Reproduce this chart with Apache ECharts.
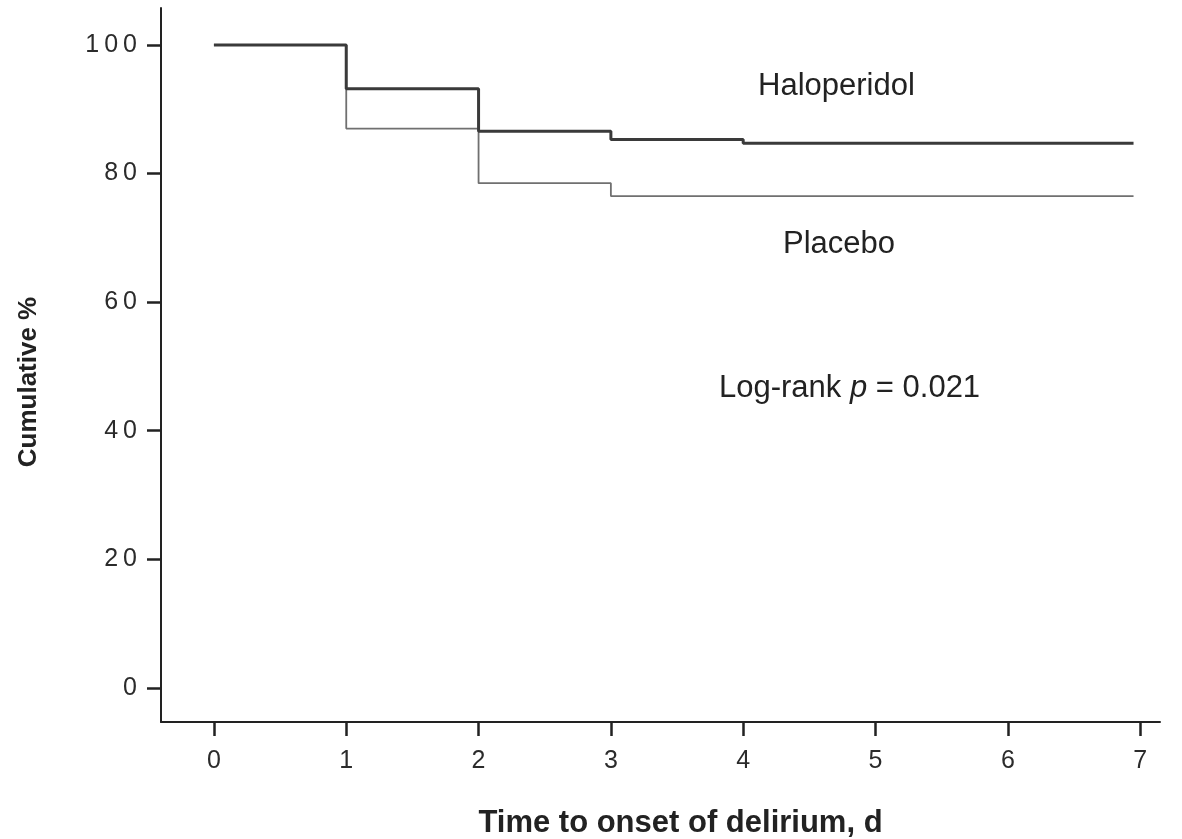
<!DOCTYPE html>
<html>
<head>
<meta charset="utf-8">
<script src="https://cdn.jsdelivr.net/npm/echarts@6/dist/echarts.min.js"></script>
<style>
  html, body { margin: 0; padding: 0; background: #fff; }
  #chart { width: 1182px; height: 839px; }
</style>
</head>
<body>
<div id="chart"></div>
<script>
// Kaplan-Meier style step data (time in days, cumulative %)
var haloTimes = [0, 1, 2, 3, 4, 6.95];
var haloValues = [100, 93.2, 86.6, 85.3, 84.7, 84.7];
var placeboTimes = [0, 1, 2, 3, 6.95];
var placeboValues = [100, 87.0, 78.5, 76.5, 76.5];
var xTicks = [0, 1, 2, 3, 4, 5, 6, 7];
var yTicks = [0, 20, 40, 60, 80, 100];

function pairs(t, v) {
  var out = [];
  for (var i = 0; i < t.length; i++) out.push([t[i], v[i]]);
  return out;
}

var font = "'Liberation Sans', Arial, sans-serif";
var myChart = echarts.init(document.getElementById('chart'));

var option = {
  animation: false,
  backgroundColor: '#fff',
  // keep the plot box fixed, don't shrink it to fit the axis names
  grid: { left: 161, right: 22, top: 8, bottom: 117, outerBoundsMode: 'none' },
  xAxis: {
    type: 'value',
    min: -0.4,
    max: 7.15,
    name: 'Time to onset of delirium, d',
    nameLocation: 'middle',
    nameGap: 86,
    nameTextStyle: { fontFamily: font, fontSize: 31, fontWeight: 'bold', color: '#222', padding: [0, 0, 0, 40] },
    splitLine: { show: false },
    axisLine: { show: true, onZero: false, lineStyle: { color: '#222', width: 2 } },
    axisTick: { show: true, length: 14, customValues: xTicks, lineStyle: { color: '#222', width: 2.5 } },
    axisLabel: { customValues: xTicks, margin: 27, fontFamily: font, fontSize: 25, color: '#2b2b2b' }
  },
  yAxis: {
    type: 'value',
    min: -5.3,
    max: 105.75,
    name: 'Cumulative %',
    nameLocation: 'middle',
    nameGap: 119,
    nameRotate: 90,
    nameTextStyle: { fontFamily: font, fontSize: 26, fontWeight: 'bold', color: '#222', padding: [0, 34, 0, 0] },
    splitLine: { show: false },
    axisLine: { show: true, onZero: false, lineStyle: { color: '#222', width: 2 } },
    axisTick: { show: true, length: 14, customValues: yTicks, lineStyle: { color: '#222', width: 2.5 } },
    axisLabel: {
      customValues: yTicks, margin: 24, fontFamily: font, fontSize: 25, color: '#2b2b2b',
      formatter: function (v) { return String(v).split('').join('\u2009'); }
    }
  },
  series: [
    {
      name: 'Placebo',
      type: 'line',
      step: 'end',
      data: pairs(placeboTimes, placeboValues),
      symbol: 'none',
      lineStyle: { color: '#707070', width: 1.8 },
      z: 2
    },
    {
      name: 'Haloperidol',
      type: 'line',
      step: 'end',
      data: pairs(haloTimes, haloValues),
      symbol: 'none',
      lineStyle: { color: '#3a3a3a', width: 3 },
      z: 3
    }
  ],
  graphic: [
    { type: 'text', style: { x: 758, y: 86, text: 'Haloperidol', font: '31px ' + font, fill: '#222', textVerticalAlign: 'middle' } },
    { type: 'text', style: { x: 783, y: 244, text: 'Placebo', font: '31px ' + font, fill: '#222', textVerticalAlign: 'middle' } },
    {
      type: 'text',
      style: {
        x: 719, y: 388, textVerticalAlign: 'middle',
        text: '{n|Log-rank }{i|p}{n| = 0.021}',
        rich: {
          n: { fontFamily: font, fontSize: 31, fill: '#222', color: '#222' },
          i: { fontFamily: font, fontSize: 31, fontStyle: 'italic', fill: '#222', color: '#222' }
        }
      }
    }
  ]
};

window.onresize = myChart.resize;
myChart.setOption(option);
</script>
</body>
</html>
